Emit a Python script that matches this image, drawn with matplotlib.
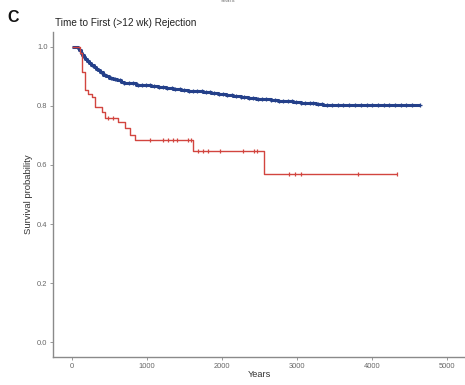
import numpy as np
import matplotlib
matplotlib.use("Agg")
import matplotlib.pyplot as plt

plt.rcParams['font.family'] = ['Liberation Sans', 'DejaVu Sans']

# Kaplan-Meier step data (time in days, survival probability)
blue_times = [0, 80, 100, 120, 140, 160, 180, 200, 230, 260, 290, 320, 350, 380,
              420, 460, 500, 550, 600, 650, 700, 780, 860, 950, 1050, 1150, 1250,
              1350, 1450, 1550, 1650, 1750, 1850, 1950, 2050, 2150, 2250, 2350,
              2450, 2550, 2650, 2750, 2850, 2950, 3050, 3150, 3250, 3350]
blue_surv = [1.0, 0.995, 0.988, 0.98, 0.973, 0.966, 0.96, 0.953, 0.946, 0.94,
             0.933, 0.926, 0.92, 0.913, 0.906, 0.9, 0.895, 0.89, 0.886, 0.882,
             0.879, 0.876, 0.872, 0.869, 0.866, 0.863, 0.861, 0.858, 0.855, 0.852,
             0.849, 0.846, 0.843, 0.84, 0.836, 0.832, 0.829, 0.827, 0.824, 0.822,
             0.82, 0.818, 0.816, 0.814, 0.811, 0.809, 0.806, 0.803]
blue_end = 4640
blue_censor = [150, 210, 270, 330, 390, 440, 520, 580, 640, 700, 760, 820, 880,
               930, 990, 1040, 1100, 1160, 1210, 1270, 1330, 1380, 1440, 1500,
               1560, 1610, 1670, 1730, 1790, 1840, 1900, 1960, 2020, 2070, 2130,
               2190, 2250, 2300, 2360, 2420, 2480, 2530, 2590, 2650, 2710, 2760,
               2820, 2880, 2940, 2990, 3050, 3110, 3170, 3220, 3280, 3340, 3400,
               3470, 3550, 3620, 3700, 3780, 3850, 3930, 4000, 4080, 4160, 4230,
               4310, 4390, 4460, 4540, 4640]

red_times = [0, 110, 130, 175, 215, 265, 305, 400, 440, 615, 705, 775, 840, 1620, 2560]
red_surv = [1.0, 0.98, 0.915, 0.855, 0.84, 0.83, 0.797, 0.78, 0.76, 0.746, 0.725,
            0.70, 0.686, 0.647, 0.570]
red_end = 4340
red_censor = [480, 550, 1040, 1210, 1280, 1350, 1400, 1550, 1590, 1680, 1750,
              1810, 1970, 2280, 2430, 2470, 2900, 2970, 3060, 3810, 4340]

x_ticks = [0, 1000, 2000, 3000, 4000, 5000]
y_ticks = [0.0, 0.2, 0.4, 0.6, 0.8, 1.0]
y_ticklabels = ["0.0", "0.2", "0.4", "0.6", "0.8", "1.0"]

BLUE = "#24408a"
RED = "#d2453f"

fig = plt.figure(figsize=(4.65, 3.85), dpi=100)
ax = fig.add_axes([53 / 465, 1 - 357 / 385, 412 / 465, (357 - 32) / 385])


def draw_km(times, surv, end, censor, color, lw, marker, ms, mew):
    t = np.append(times, end)
    s = np.append(surv, surv[-1])
    ax.step(t, s, where="post", color=color, lw=lw, solid_capstyle="butt")
    idx = np.searchsorted(times, censor, side="right") - 1
    cs = np.asarray(surv)[idx]
    ax.plot(censor, cs, ls="none", marker=marker, color=color, ms=ms, mew=mew)


draw_km(blue_times, blue_surv, blue_end, blue_censor, BLUE, 2.2, "+", 3.5, 0.9)
draw_km(red_times, red_surv, red_end, red_censor, RED, 1.0, "|", 2.6, 0.9)

ax.set_xlim(-253, 5240)
ax.set_ylim(-0.05, 1.05)
ax.set_xticks(x_ticks)
ax.set_xticklabels([str(v) for v in x_ticks])
ax.set_yticks(y_ticks)
ax.set_yticklabels(y_ticklabels)
ax.tick_params(axis="both", length=2.5, width=0.6, colors="#888888",
               labelsize=5.4, labelcolor="#666666", pad=1.5)
for side in ("top", "right"):
    ax.spines[side].set_visible(False)
for side in ("left", "bottom"):
    ax.spines[side].set_color("#8a8a8a")
    ax.spines[side].set_linewidth(1.0)

ax.set_xlabel("Years", fontsize=6.6, color="#333333", labelpad=0.5)
ax.set_ylabel("Survival probability", fontsize=6.8, color="#333333", labelpad=3)

fig.text(55 / 465, 1 - 23 / 385, "Time to First (>12 wk) Rejection",
         fontsize=7.2, color="#222222", ha="left", va="center")
fig.text(13 / 465, 1 - 17.5 / 385, "C", fontsize=11.5, fontweight="bold",
         color="#111111", ha="center", va="center")
fig.text(228 / 465, 1 - 1 / 385, "Years", fontsize=4.5, color="#777777",
         ha="center", va="center")

fig.savefig("out.png", dpi=100)
